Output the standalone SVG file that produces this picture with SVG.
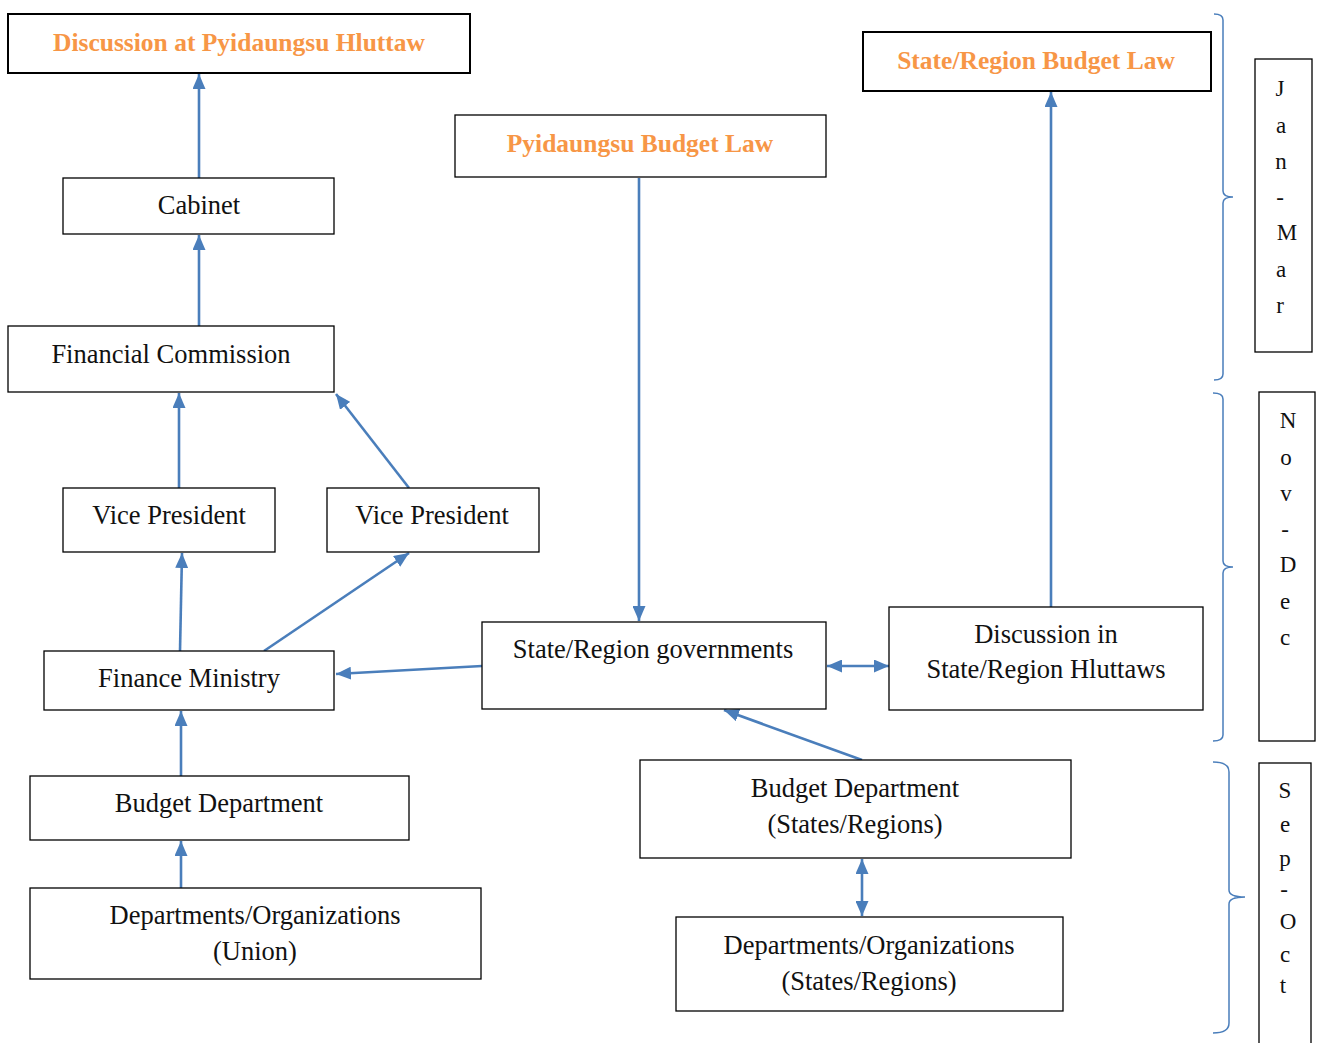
<svg xmlns="http://www.w3.org/2000/svg" width="1318" height="1043" viewBox="0 0 1318 1043">
<style>
.box{fill:#fff;stroke:#000;stroke-width:1.3}
.tbox{fill:#fff;stroke:#000;stroke-width:2}
.t{font-family:"Liberation Serif",serif;font-size:26.5px;fill:#111;text-anchor:middle}
.o{font-family:"Liberation Serif",serif;font-size:25.5px;font-weight:bold;fill:#F79646;text-anchor:middle}
.m{font-family:"Liberation Serif",serif;font-size:23px;fill:#111;text-anchor:middle}
.c{stroke:#4A7EBB;stroke-width:2.6;fill:none}
.br{stroke:#4A7EBB;stroke-width:1.5;fill:none}
</style>
<defs>
<marker id="ah" viewBox="0 0 15 13" refX="15" refY="6.5" markerWidth="15" markerHeight="13" markerUnits="userSpaceOnUse" orient="auto-start-reverse">
<path d="M0,0 L15,6.5 L0,13 Z" fill="#4A7EBB"/>
</marker>
</defs>

<g id="connectors">
<line class="c" x1="199" y1="178" x2="199" y2="74" marker-end="url(#ah)"/>
<line class="c" x1="199" y1="326" x2="199" y2="235" marker-end="url(#ah)"/>
<line class="c" x1="179" y1="488" x2="179" y2="393" marker-end="url(#ah)"/>
<line class="c" x1="409" y1="488" x2="336" y2="394" marker-end="url(#ah)"/>
<line class="c" x1="180" y1="651" x2="182" y2="553" marker-end="url(#ah)"/>
<line class="c" x1="264" y1="651" x2="409" y2="553" marker-end="url(#ah)"/>
<line class="c" x1="482" y1="666" x2="336" y2="674" marker-end="url(#ah)"/>
<line class="c" x1="639" y1="178" x2="639" y2="621" marker-end="url(#ah)"/>
<line class="c" x1="1051" y1="607" x2="1051" y2="92" marker-end="url(#ah)"/>
<line class="c" x1="827" y1="666" x2="889" y2="666" marker-start="url(#ah)" marker-end="url(#ah)"/>
<line class="c" x1="862" y1="760" x2="724" y2="710" marker-end="url(#ah)"/>
<line class="c" x1="862" y1="859" x2="862" y2="916" marker-start="url(#ah)" marker-end="url(#ah)"/>
<line class="c" x1="181" y1="776" x2="181" y2="711" marker-end="url(#ah)"/>
<line class="c" x1="181" y1="888" x2="181" y2="841" marker-end="url(#ah)"/>
</g>

<g id="n-discussion-pyidaungsu"><rect class="tbox" x="8" y="14" width="462" height="59"/><text class="o" x="239" y="51">Discussion at Pyidaungsu Hluttaw</text></g>
<g id="n-cabinet"><rect class="box" x="63" y="178" width="271" height="56"/><text class="t" x="199" y="214">Cabinet</text></g>
<g id="n-financial-commission"><rect class="box" x="8" y="326" width="326" height="66"/><text class="t" x="171" y="363">Financial Commission</text></g>
<g id="n-vp1"><rect class="box" x="63" y="488" width="212" height="64"/><text class="t" x="169" y="524">Vice President</text></g>
<g id="n-vp2"><rect class="box" x="327" y="488" width="212" height="64"/><text class="t" x="432" y="524">Vice President</text></g>
<g id="n-finance-ministry"><rect class="box" x="44" y="651" width="290" height="59"/><text class="t" x="189" y="687">Finance Ministry</text></g>
<g id="n-budget-dept"><rect class="box" x="30" y="776" width="379" height="64"/><text class="t" x="219" y="812">Budget Department</text></g>
<g id="n-dept-union"><rect class="box" x="30" y="888" width="451" height="91"/><text class="t" x="255" y="924">Departments/Organizations</text><text class="t" x="255" y="960">(Union)</text></g>
<g id="n-pyidaungsu-law"><rect class="box" x="455" y="115" width="371" height="62"/><text class="o" x="640" y="152">Pyidaungsu Budget Law</text></g>
<g id="n-sr-law"><rect class="tbox" x="863" y="32" width="348" height="59"/><text class="o" x="1036" y="69">State/Region Budget Law</text></g>
<g id="n-sr-gov"><rect class="box" x="482" y="622" width="344" height="87"/><text class="t" x="653" y="658">State/Region governments</text></g>
<g id="n-sr-hluttaws"><rect class="box" x="889" y="607" width="314" height="103"/><text class="t" x="1046" y="643">Discussion in</text><text class="t" x="1046" y="678">State/Region Hluttaws</text></g>
<g id="n-budget-dept-sr"><rect class="box" x="640" y="760" width="431" height="98"/><text class="t" x="855" y="797">Budget Department</text><text class="t" x="855" y="833">(States/Regions)</text></g>
<g id="n-dept-sr"><rect class="box" x="676" y="917" width="387" height="94"/><text class="t" x="869" y="954">Departments/Organizations</text><text class="t" x="869" y="990">(States/Regions)</text></g>

<g id="brackets">
<path class="br" d="M1214,14 Q1223,14 1223,20 L1223,191 Q1223,197 1233,197 Q1223,197 1223,203 L1223,374 Q1223,380 1214,380"/>
<path class="br" d="M1213,393 Q1223,393 1223,399 L1223,561 Q1223,567 1233,567 Q1223,567 1223,573 L1223,735 Q1223,741 1213,741"/>
<path class="br" d="M1213,762 Q1229,762 1229,772 L1229,890 Q1229,897 1245,897 Q1229,897 1229,904 L1229,1023 Q1229,1033 1213,1033"/>
</g>

<g id="n-jan-mar"><rect class="box" x="1255" y="59" width="57" height="293"/>
<text class="m"><tspan x="1280" y="96">J</tspan><tspan x="1281" y="133">a</tspan><tspan x="1281" y="169">n</tspan><tspan x="1280" y="205">-</tspan><tspan x="1287" y="240">M</tspan><tspan x="1281" y="277">a</tspan><tspan x="1280" y="313">r</tspan></text></g>
<g id="n-nov-dec"><rect class="box" x="1259" y="392" width="56" height="349"/>
<text class="m"><tspan x="1288" y="428">N</tspan><tspan x="1286" y="465">o</tspan><tspan x="1286" y="501">v</tspan><tspan x="1285" y="537">-</tspan><tspan x="1288" y="572">D</tspan><tspan x="1285" y="609">e</tspan><tspan x="1285" y="645">c</tspan></text></g>
<g id="n-sep-oct"><rect class="box" x="1259" y="763" width="52" height="290"/>
<text class="m"><tspan x="1285" y="798">S</tspan><tspan x="1285" y="832">e</tspan><tspan x="1285" y="866">p</tspan><tspan x="1284" y="897">-</tspan><tspan x="1288" y="929">O</tspan><tspan x="1285" y="962">c</tspan><tspan x="1283" y="993">t</tspan></text></g>
</svg>
